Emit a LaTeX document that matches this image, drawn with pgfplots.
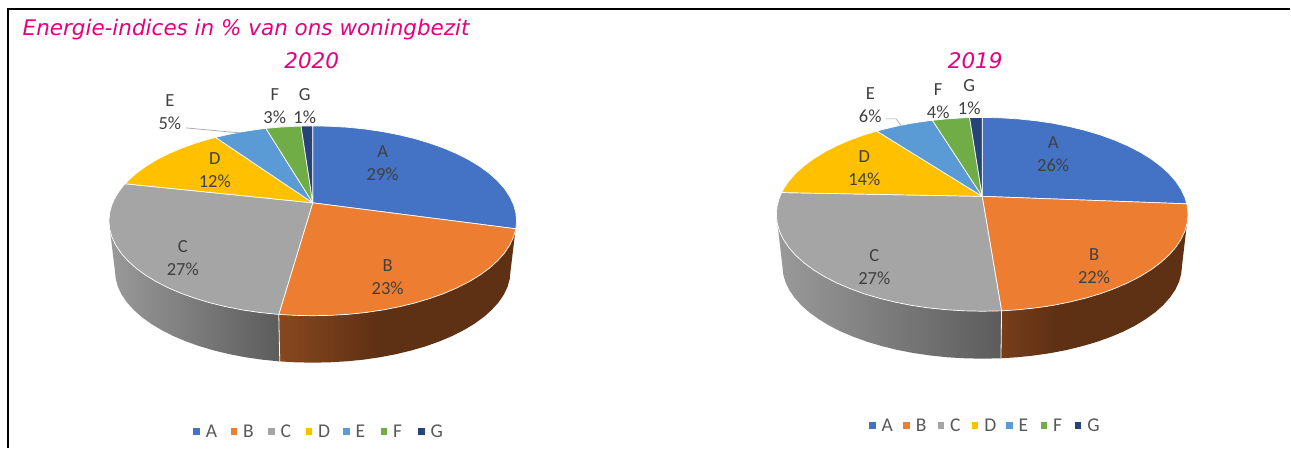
\documentclass[border=0pt]{standalone}
\usepackage{fontspec}
\setmainfont{Carlito}
\newfontfamily\titlefont{DejaVu Sans}
\usepackage{pgfplots}
\pgfplotsset{compat=1.18}
\definecolor{cA}{HTML}{4472C4}
\definecolor{cB}{HTML}{ED7D31}
\definecolor{cC}{HTML}{A5A5A5}
\definecolor{cD}{HTML}{FFC000}
\definecolor{cE}{HTML}{5B9BD5}
\definecolor{cF}{HTML}{70AD47}
\definecolor{cG}{HTML}{264478}
\definecolor{mag}{HTML}{E6007E}
\definecolor{lab}{HTML}{404040}
\definecolor{legt}{HTML}{595959}
\definecolor{gs1}{RGB}{154,154,154}
\definecolor{gs2}{RGB}{92,92,92}
\definecolor{os1}{RGB}{136,72,30}
\definecolor{os1b}{RGB}{120,62,26}
\definecolor{os2}{RGB}{94,48,20}
\pgfdeclarehorizontalshading{grayside}{100bp}{color(0bp)=(gs1);color(25bp)=(gs1);color(75bp)=(gs2);color(100bp)=(gs2)}
\pgfdeclarehorizontalshading{orangeside}{100bp}{color(0bp)=(os1);color(25bp)=(os1);color(46bp)=(os2);color(100bp)=(os2)}
\pgfdeclarehorizontalshading{orangesideb}{100bp}{color(0bp)=(os1b);color(25bp)=(os1b);color(40bp)=(os2);color(100bp)=(os2)}
\tikzset{
  wedge/.style={draw=white, line width=0.7pt, line join=round},
  lbl/.style={text=lab, align=center, font=\fontsize{18.5}{23}\selectfont, inner sep=0pt},
}
\pgfplotsset{
  frameaxis/.style={
    at={(0,0)}, anchor=south west,
    width=1291pt, height=448pt, scale only axis,
    xmin=0, xmax=1291, ymin=0, ymax=448, y dir=reverse,
    hide axis, clip=false,
    legend columns=7,
    legend image code/.code={\fill[##1,draw=none] (0pt,-3.2pt) rectangle (6.5pt,3.2pt);},
    legend style={draw=none, fill=none, inner sep=0pt, outer sep=0pt,
      font=\fontsize{19.5}{21}\selectfont\color{legt},
      nodes={inner sep=0pt, outer sep=0pt},
      /tikz/every odd column/.append style={column sep=6pt},
    },
  },
}
\begin{document}
\begin{tikzpicture}
\begin{axis}[frameaxis,
  legend style={at={(0.2515,0.0357)}, anchor=center},
  legend entries={\makebox[25pt][l]{A},\makebox[25pt][l]{B},\makebox[25pt][l]{C},\makebox[25pt][l]{D},\makebox[25pt][l]{E},\makebox[25pt][l]{F},\makebox[25pt][l]{G}},
]
% background and frame
\addplot[forget plot, fill=white, draw=none] coordinates {(0,0)(1291,0)(1291,448)(0,448)(0,0)};
\addplot[forget plot, black, line width=2.2pt] coordinates {(8,448)(8,9)(1291,9)};
% 2020 side walls
\addplot[forget plot, draw=none, shading=grayside] coordinates {
(279,314.7)(277.6,314.6)(260.2,312.8)(243.2,310.3)(226.8,307.1)(211,303.3)(196,298.8)(181.9,293.8)(168.8,288.2)(156.7,282.1)(145.9,275.5)(136.3,268.5)(128.1,261.1)(121.3,253.5)(116,245.6)(112.1,237.5)(109.8,229.3)(109,221)
(115,271)(115.8,279)(118,287)(121.7,294.8)(126.9,302.5)(133.6,309.9)(141.5,317)(150.8,323.8)(161.3,330.1)(173,336.1)(185.7,341.5)(199.4,346.4)(214,350.7)(229.3,354.4)(245.3,357.5)(261.8,359.9)(278.6,361.6)(280,361.7)(279,314.7)};
\addplot[forget plot, draw=none, shading=orangeside] coordinates {
(517,221)(516.3,229)(513.9,237.5)(510,245.6)(504.7,253.5)(497.9,261.1)(489.7,268.5)(480.1,275.5)(469.3,282.1)(457.2,288.2)(444.1,293.8)(430,298.8)(415,303.3)(399.2,307.1)(382.8,310.3)(365.8,312.8)(348.4,314.6)(330.8,315.6)(313,316)(295.2,315.6)(279,314.7)
(280,361.7)(295.7,362.6)(313,363)(330.3,362.6)(347.4,361.6)(364.2,359.9)(380.7,357.5)(396.7,354.4)(412,350.7)(426.6,346.4)(440.3,341.5)(453,336.1)(464.7,330.1)(475.2,323.8)(484.5,317)(492.4,309.9)(499.1,302.5)(504.3,294.8)(508,287)(510.2,279)(511,271)(517,221)};
\addplot[forget plot, white, line width=0.8pt] coordinates {(279,314.7)(280,361.7)};
% 2020 top
\addplot[wedge, fill=cA] coordinates {(313,203)(313,126)(330.8,126.4)(348.4,127.4)(365.8,129.2)(382.8,131.7)(399.2,134.9)(415,138.7)(430,143.2)(444.1,148.2)(457.2,153.8)(469.3,159.9)(480.1,166.5)(489.7,173.5)(497.9,180.9)(504.7,188.5)(510,196.4)(513.9,204.5)(516.2,212.7)(517,221)(516.3,229)(313,203)};
\addplot[wedge, fill=cB] coordinates {(313,203)(516.3,229)(513.9,237.5)(510,245.6)(504.7,253.5)(497.9,261.1)(489.7,268.5)(480.1,275.5)(469.3,282.1)(457.2,288.2)(444.1,293.8)(430,298.8)(415,303.3)(399.2,307.1)(382.8,310.3)(365.8,312.8)(348.4,314.6)(330.8,315.6)(313,316)(295.2,315.6)(279,314.7)(313,203)};
\addplot[wedge, fill=cC] coordinates {(313,203)(279,314.7)(277.6,314.6)(260.2,312.8)(243.2,310.3)(226.8,307.1)(211,303.3)(196,298.8)(181.9,293.8)(168.8,288.2)(156.7,282.1)(145.9,275.5)(136.3,268.5)(128.1,261.1)(121.3,253.5)(116,245.6)(112.1,237.5)(109.8,229.3)(109,221)(109.8,212.7)(112.1,204.5)(116,196.4)(121.3,188.5)(125.2,183.9)(313,203)};
\addplot[wedge, fill=cD] coordinates {(313,203)(125.2,183.9)(128.1,180.9)(136.3,173.5)(145.9,166.5)(156.7,159.9)(168.8,153.8)(181.9,148.2)(196,143.2)(211,138.7)(215.7,137.5)(313,203)};
\addplot[wedge, fill=cE] coordinates {(313,203)(215.7,137.5)(226.8,134.9)(243.2,131.7)(260.2,129.2)(266.1,128.5)(313,203)};
\addplot[wedge, fill=cF] coordinates {(313,203)(266.1,128.5)(277.6,127.4)(295.2,126.4)(301.3,126.2)(313,203)};
\addplot[wedge, fill=cG] coordinates {(313,203)(301.3,126.2)(313,126)(313,203)};
% leader line E
\addplot[forget plot, color=gray!70, line width=0.7pt] coordinates {(186,128)(240,133)};
% labels
\node[lbl] at (axis cs:383,163) {A\\29\%};
\node[lbl] at (axis cs:388,277) {B\\23\%};
\node[lbl] at (axis cs:183,258) {C\\27\%};
\node[lbl] at (axis cs:215,170) {D\\12\%};
\node[lbl] at (axis cs:170,112) {E\\5\%};
\node[lbl] at (axis cs:275,106) {F\\3\%};
\node[lbl] at (axis cs:305,106) {G\\1\%};
% titles
\node[text=mag, anchor=west, inner sep=0pt, font=\titlefont\itshape\fontsize{21.5}{24}\selectfont] at (axis cs:22.5,30) {Energie-indices in \% van ons woningbezit};
\node[text=mag, inner sep=0pt, font=\titlefont\itshape\fontsize{21.5}{24}\selectfont] at (axis cs:312,61) {2020};
\node[text=mag, inner sep=0pt, font=\titlefont\itshape\fontsize{21.5}{24}\selectfont] at (axis cs:976,61) {2019};
\end{axis}
\begin{axis}[frameaxis,
  legend style={at={(0.7668,0.0491)}, anchor=center},
  legend entries={\makebox[21.8pt][l]{A},\makebox[21.8pt][l]{B},\makebox[21.8pt][l]{C},\makebox[21.8pt][l]{D},\makebox[21.8pt][l]{E},\makebox[21.8pt][l]{F},\makebox[21.8pt][l]{G}},
]
% 2019 side walls
\addplot[forget plot, draw=none, shading=grayside] coordinates {
(1002.4,311.1)(983,311.5)(965,311.1)(947.2,310)(929.7,308.2)(912.5,305.7)(895.9,302.4)(880,298.5)(864.8,294)(850.6,288.8)(837.3,283.1)(825.2,276.9)(814.2,270.1)(804.6,263)(796.3,255.5)(789.4,247.7)(784,239.6)(780.1,231.3)(777.8,223)(777,214.5)
(783,266)(783.8,274.1)(786,282.1)(789.8,290.1)(795.1,297.8)(801.7,305.3)(809.8,312.5)(819.2,319.3)(829.8,325.8)(841.6,331.8)(854.4,337.2)(868.3,342.2)(883,346.5)(898.5,350.3)(914.6,353.4)(931.2,355.8)(948.3,357.6)(965.6,358.6)(983,359)(1001.8,358.6)(1002.4,311.1)};
\addplot[forget plot, draw=none, shading=orangesideb] coordinates {
(1189,214.5)(1188.2,223)(1185.9,231.3)(1182,239.6)(1176.6,247.7)(1169.7,255.5)(1161.4,263)(1151.8,270.1)(1140.8,276.9)(1128.7,283.1)(1115.4,288.8)(1101.2,294)(1086,298.5)(1070.1,302.4)(1053.5,305.7)(1036.3,308.2)(1018.8,310)(1002.4,311.1)
(1001.8,358.6)(1017.7,357.6)(1034.8,355.8)(1051.4,353.4)(1067.5,350.3)(1083,346.5)(1097.7,342.2)(1111.6,337.2)(1124.4,331.8)(1136.2,325.8)(1146.8,319.3)(1156.2,312.5)(1164.3,305.3)(1170.9,297.8)(1176.2,290.1)(1180,282.1)(1182.2,274.1)(1183,266)(1189,214.5)};
\addplot[forget plot, white, line width=0.8pt] coordinates {(1002.4,311.1)(1001.8,358.6)};
% 2019 top
\addplot[wedge, fill=cA] coordinates {(983,196.5)(983,117.5)(1001,117.9)(1018.8,119)(1036.3,120.8)(1053.5,123.3)(1070.1,126.6)(1086,130.5)(1101.2,135)(1115.4,140.2)(1128.7,145.9)(1140.8,152.1)(1151.8,158.9)(1161.4,166)(1169.7,173.5)(1176.6,181.3)(1182,189.4)(1185.9,197.7)(1187.8,204)(983,196.5)};
\addplot[wedge, fill=cB] coordinates {(983,196.5)(1187.8,204)(1188.2,206)(1189,214.5)(1188.2,223)(1185.9,231.3)(1182,239.6)(1176.6,247.7)(1169.7,255.5)(1161.4,263)(1151.8,270.1)(1140.8,276.9)(1128.7,283.1)(1115.4,288.8)(1101.2,294)(1086,298.5)(1070.1,302.4)(1053.5,305.7)(1036.3,308.2)(1018.8,310)(1002.4,311.1)(983,196.5)};
\addplot[wedge, fill=cC] coordinates {(983,196.5)(1002.4,311.1)(983,311.5)(965,311.1)(947.2,310)(929.7,308.2)(912.5,305.7)(895.9,302.4)(880,298.5)(864.8,294)(850.6,288.8)(837.3,283.1)(825.2,276.9)(814.2,270.1)(804.6,263)(796.3,255.5)(789.4,247.7)(784,239.6)(780.1,231.3)(777.8,223)(777,214.5)(777.8,206)(780.1,197.7)(782.3,192.7)(983,196.5)};
\addplot[wedge, fill=cD] coordinates {(983,196.5)(782.3,192.7)(784,189.4)(789.4,181.3)(796.3,173.5)(804.6,166)(814.2,158.9)(825.2,152.1)(837.3,145.9)(850.6,140.2)(864.8,135)(877.5,131.2)(983,196.5)};
\addplot[wedge, fill=cE] coordinates {(983,196.5)(877.5,131.2)(880,130.5)(895.9,126.6)(912.5,123.3)(929.7,120.8)(933.2,120.4)(983,196.5)};
\addplot[wedge, fill=cF] coordinates {(983,196.5)(933.2,120.4)(947.2,119)(965,117.9)(970.4,117.7)(983,196.5)};
\addplot[wedge, fill=cG] coordinates {(983,196.5)(970.4,117.7)(983,117.5)(983,196.5)};
\addplot[forget plot, color=gray!70, line width=0.7pt] coordinates {(886,119)(897,119)(902,126)};
\node[lbl] at (axis cs:1054,154) {A\\26\%};
\node[lbl] at (axis cs:1095,266) {B\\22\%};
\node[lbl] at (axis cs:875,267) {C\\27\%};
\node[lbl] at (axis cs:865,168) {D\\14\%};
\node[lbl] at (axis cs:871,105) {E\\6\%};
\node[lbl] at (axis cs:939,101) {F\\4\%};
\node[lbl] at (axis cs:970,97) {G\\1\%};
\end{axis}
\end{tikzpicture}
\end{document}
